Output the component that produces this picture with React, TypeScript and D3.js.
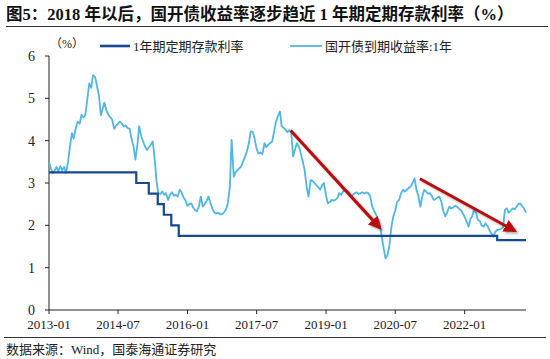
import * as React from 'react';
import * as d3 from 'd3';

const useMemo = React.useMemo;

// 国开债到期收益率:1年, semi-monthly readings (1st and 15th of each month)
const yield2013 = [3.5, 3.35, 3.23, 3.3, 3.38, 3.28, 3.4, 3.3, 3.38, 3.24, 3.5, 3.85, 4.18, 4.05, 4.3, 4.45, 4.4, 4.61, 4.55, 4.6, 5.0, 5.35, 5.25, 5.55];
const yield2014 = [5.5, 5.3, 5.05, 4.6, 4.75, 4.9, 4.7, 4.62, 4.55, 4.5, 4.28, 4.35, 4.4, 4.45, 4.4, 4.34, 4.36, 4.3, 4.28, 4.05, 3.86, 3.55, 3.9, 4.34];
const yield2015 = [4.1, 3.98, 3.85, 3.78, 3.84, 3.9, 3.98, 3.63, 3.05, 2.76, 2.74, 2.8, 2.72, 2.76, 2.6, 2.72, 2.78, 2.7, 2.72, 2.68, 2.84, 2.78, 2.66, 2.6];
const yield2016 = [2.46, 2.5, 2.52, 2.42, 2.36, 2.33, 2.45, 2.68, 2.44, 2.5, 2.58, 2.68, 2.52, 2.4, 2.3, 2.28, 2.3, 2.26, 2.27, 2.3, 2.38, 2.52, 2.9, 4.02];
const yield2017 = [3.15, 3.25, 3.31, 3.35, 3.39, 3.5, 3.63, 3.75, 3.95, 4.22, 4.2, 4.05, 3.8, 3.7, 3.72, 3.68, 3.94, 3.85, 3.9, 3.94, 3.98, 4.2, 4.45, 4.57];
const yield2018 = [4.69, 4.34, 4.3, 4.26, 4.2, 4.25, 4.18, 3.63, 3.8, 3.94, 3.85, 3.7, 3.5, 3.31, 2.9, 2.68, 3.07, 3.05, 3.0, 2.95, 2.9, 2.84, 2.95, 3.0];
const yield2019 = [2.7, 2.52, 2.55, 2.6, 2.58, 2.6, 2.65, 2.76, 2.72, 2.8, 2.84, 2.82, 2.78, 2.68, 2.72, 2.76, 2.78, 2.74, 2.76, 2.78, 2.75, 2.78, 2.76, 2.7];
const yield2020 = [2.44, 2.35, 2.25, 2.13, 2.0, 1.75, 1.45, 1.22, 1.3, 1.5, 1.97, 2.2, 2.35, 2.55, 2.6, 2.75, 2.84, 2.8, 2.84, 2.88, 2.92, 3.0, 3.11, 2.85];
const yield2021 = [2.68, 2.44, 2.7, 2.84, 2.8, 2.75, 2.76, 2.7, 2.6, 2.62, 2.66, 2.68, 2.55, 2.35, 2.21, 2.3, 2.44, 2.4, 2.42, 2.46, 2.44, 2.4, 2.36, 2.3];
const yield2022 = [2.2, 2.1, 1.97, 2.15, 2.21, 2.36, 2.3, 2.13, 2.1, 2.0, 1.97, 2.05, 1.98, 1.89, 1.8, 1.73, 1.85, 1.89, 1.9, 1.92, 1.95, 2.36, 2.4, 2.3];
const yield2023 = [2.35, 2.4, 2.38, 2.44, 2.5, 2.52, 2.45, 2.4, 2.3];
const yieldYears = [2013, 2014, 2015, 2016, 2017, 2018, 2019, 2020, 2021, 2022, 2023];
const yieldByYear = [yield2013, yield2014, yield2015, yield2016, yield2017, yield2018, yield2019, yield2020, yield2021, yield2022, yield2023];

// 1年期定期存款利率 change dates
const depositDates = ['2013-01-01', '2014-11-22', '2015-03-01', '2015-05-11', '2015-06-28', '2015-08-26', '2015-10-24', '2022-09-15', '2023-05-01'];
const depositRates = [3.25, 3.0, 2.75, 2.5, 2.25, 2.0, 1.75, 1.65, 1.65];

const xTickLabels = ['2013-01', '2014-07', '2016-01', '2017-07', '2019-01', '2020-07', '2022-01'];
const yTicks = [0, 1, 2, 3, 4, 5, 6];

// annotation arrows: [start date, start value, end date, end value]
const arrows: [string, number, string, number][] = [
  ['2018-03-27', 4.24, '2020-03-01', 1.94],
  ['2021-01-12', 3.1, '2023-02-01', 1.87]
];

const W = 550;
const H = 359;
const serif = "'Liberation Serif', 'Times New Roman', 'Noto Sans CJK SC', serif";
const DARK = '#16498f';
const LIGHT = '#4fb6e6';
const RED = '#b80c0c';

export default function App() {
  const parseDay = d3.timeParse('%Y-%m-%d');
  const parseMonth = d3.timeParse('%Y-%m');

  const x = useMemo(
    () =>
      d3
        .scaleTime()
        .domain([new Date(2013, 0, 1), new Date(2023, 4, 1)])
        .range([49, 526]),
    []
  );
  const y = useMemo(() => d3.scaleLinear().domain([0, 6]).range([310, 56]), []);

  const yieldPts = useMemo(() => {
    const pts: [Date, number][] = [];
    yieldByYear.forEach((vals, yi) => {
      vals.forEach((v, i) => {
        const d = new Date(yieldYears[yi], Math.floor(i / 2), i % 2 ? 15 : 1);
        pts.push([d, v]);
      });
    });
    return pts;
  }, []);

  const depositPts = depositDates.map((d, i) => [parseDay(d) as Date, depositRates[i]] as [Date, number]);

  const line = d3
    .line<[Date, number]>()
    .x(d => x(d[0]))
    .y(d => y(d[1]));
  const stepLine = d3
    .line<[Date, number]>()
    .x(d => x(d[0]))
    .y(d => y(d[1]))
    .curve(d3.curveStepAfter);

  return (
    <div style={{ position: 'absolute', left: 0, top: 0 }}>
      <svg width={W} height={H} style={{ display: 'block', background: '#fff' }}>
        <defs>
          <marker id="head" viewBox="0 0 10 10" refX="8" refY="5" markerWidth="4.4" markerHeight="4.4" orient="auto">
            <path d="M0,0 L10,5 L0,10 Z" fill={RED} />
          </marker>
          <filter id="shadow" x="-10%" y="-10%" width="130%" height="130%">
            <feGaussianBlur in="SourceAlpha" stdDeviation="1.2" />
            <feOffset dx="1.5" dy="1.5" result="b" />
            <feComponentTransfer>
              <feFuncA type="linear" slope="0.3" />
            </feComponentTransfer>
            <feMerge>
              <feMergeNode />
              <feMergeNode in="SourceGraphic" />
            </feMerge>
          </filter>
        </defs>

        {/* title */}
        <text x={6} y={20} fontFamily={serif} fontSize={16.5} fontWeight="bold" fill="#111">
          图5：2018 年以后，国开债收益率逐步趋近 1 年期定期存款利率（%）
        </text>
        <line x1={6} x2={548} y1={26.5} y2={26.5} stroke="#333" strokeWidth={1} />

        {/* unit */}
        <text x={67} y={48} textAnchor="middle" fontFamily={serif} fontSize={12} fill="#222">
          （%）
        </text>

        {/* legend */}
        <line x1={100} x2={130} y1={46} y2={46} stroke={DARK} strokeWidth={2.6} />
        <text x={133} y={50.5} fontFamily={serif} fontSize={13} fill="#222">
          1年期定期存款利率
        </text>
        <line x1={290} x2={322} y1={46} y2={46} stroke={LIGHT} strokeWidth={1.8} />
        <text x={325} y={50.5} fontFamily={serif} fontSize={13} fill="#222">
          国开债到期收益率:1年
        </text>

        {/* y axis */}
        <line x1={49} x2={49} y1={y(6)} y2={y(0)} stroke="#222" strokeWidth={1} />
        {yTicks.map(t => (
          <g key={t}>
            <line x1={45} x2={49} y1={y(t)} y2={y(t)} stroke="#222" strokeWidth={1} />
            <text x={35} y={y(t)} dy="0.35em" textAnchor="end" fontFamily={serif} fontSize={14} fill="#222">
              {t}
            </text>
          </g>
        ))}

        {/* x axis */}
        <line x1={49} x2={526} y1={y(0)} y2={y(0)} stroke="#222" strokeWidth={1} />
        {xTickLabels.map(l => {
          const px = x(parseMonth(l) as Date);
          return (
            <g key={l}>
              <line x1={px} x2={px} y1={y(0)} y2={y(0) + 4} stroke="#222" strokeWidth={1} />
              <text x={px} y={y(0) + 19} textAnchor="middle" fontFamily={serif} fontSize={13} fill="#222">
                {l}
              </text>
            </g>
          );
        })}

        {/* series */}
        <path d={line(yieldPts) || ''} fill="none" stroke={LIGHT} strokeWidth={1.8} strokeLinejoin="round" />
        <path d={stepLine(depositPts) || ''} fill="none" stroke={DARK} strokeWidth={2.2} />

        {/* arrows */}
        <g filter="url(#shadow)">
          {arrows.map((a, i) => (
            <line
              key={i}
              x1={x(parseDay(a[0]) as Date)}
              y1={y(a[1])}
              x2={x(parseDay(a[2]) as Date)}
              y2={y(a[3])}
              stroke={RED}
              strokeWidth={3}
              markerEnd="url(#head)"
            />
          ))}
        </g>

        {/* footer */}
        <line x1={4} x2={546} y1={337.5} y2={337.5} stroke="#333" strokeWidth={1} />
        <text x={6} y={354} fontFamily={serif} fontSize={13} fill="#222">
          数据来源：Wind，国泰海通证券研究
        </text>
      </svg>
    </div>
  );
}
